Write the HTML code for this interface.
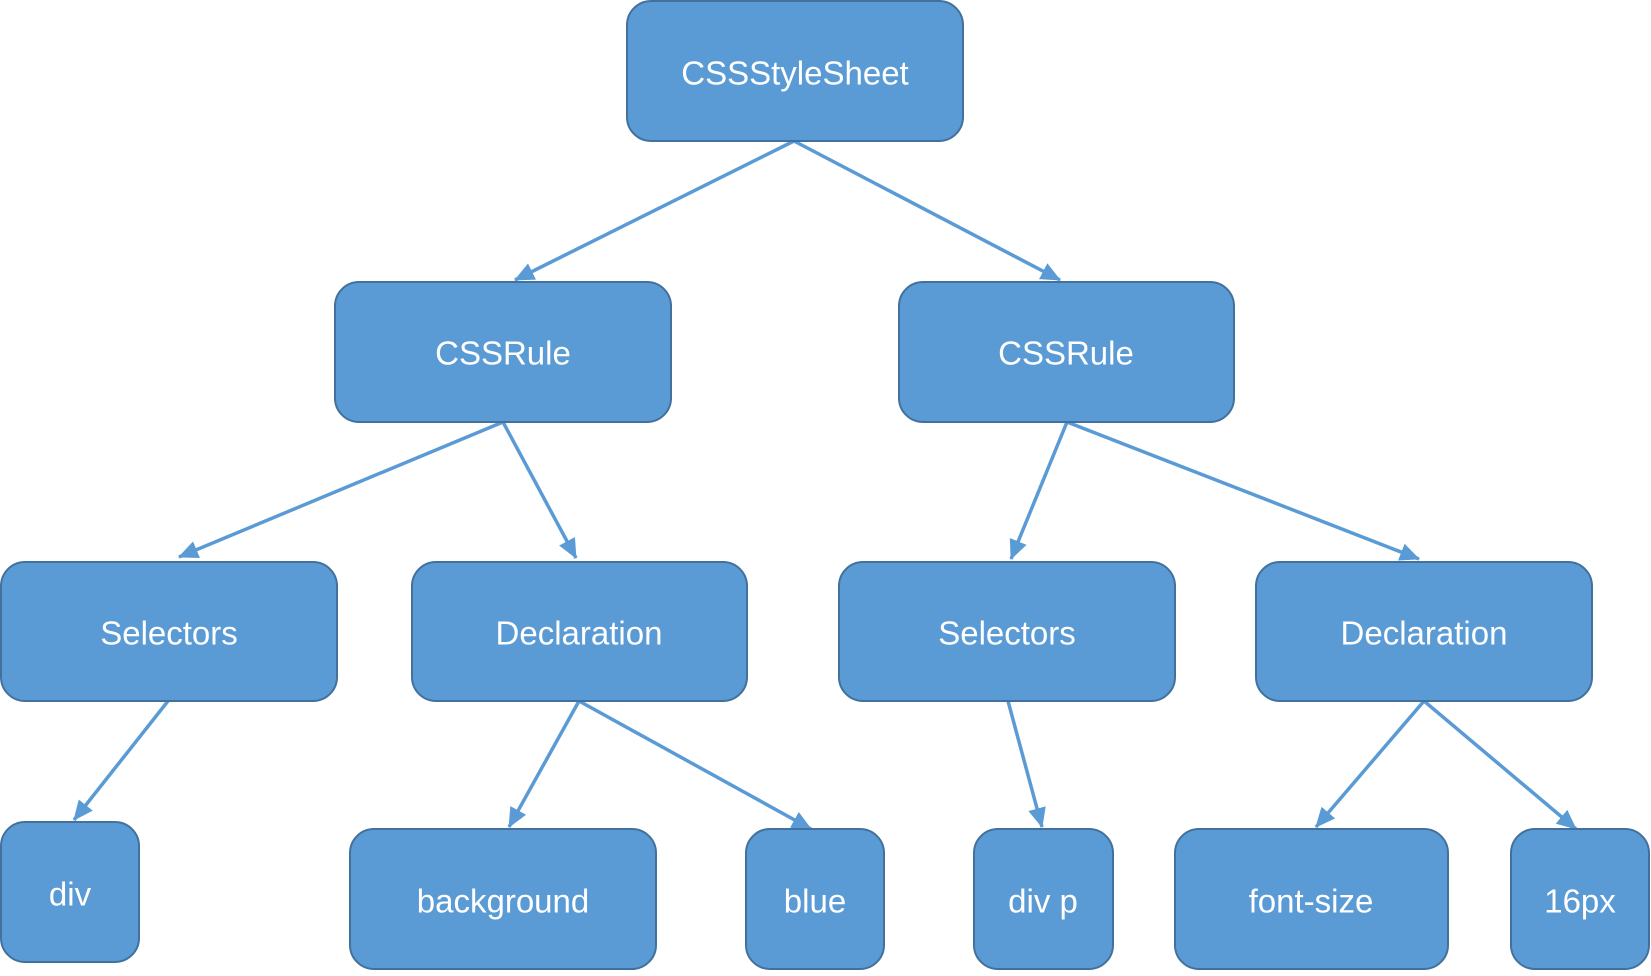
<!DOCTYPE html>
<html><head><meta charset="utf-8"><style>
body{margin:0;background:#fff;width:1651px;height:971px;overflow:hidden}
svg text{font-family:"Liberation Sans","Noto Sans CJK SC",sans-serif;font-size:33px;fill:#fff;text-anchor:middle;dominant-baseline:central}
</style></head><body>
<svg width="1651" height="971" viewBox="0 0 1651 971">
<defs><marker id="a" markerWidth="8" markerHeight="8" refX="7" refY="4" orient="auto" markerUnits="userSpaceOnUse" viewBox="0 0 8 8"><path d="M0,0L8,4L0,8z" fill="#5b9bd5"/></marker>
<marker id="m" markerWidth="20" markerHeight="18" refX="19" refY="9" orient="auto" markerUnits="userSpaceOnUse"><path d="M0,0L20,9L0,18z" fill="#5b9bd5"/></marker></defs>
<g stroke="#5b9bd5" stroke-width="3.5" marker-end="url(#m)">
<line x1="794" y1="141" x2="515" y2="280"/>
<line x1="794" y1="141" x2="1060" y2="280"/>
<line x1="503" y1="422" x2="179" y2="557"/>
<line x1="503" y1="422" x2="576" y2="558"/>
<line x1="1067" y1="422" x2="1011" y2="559"/>
<line x1="1067" y1="422" x2="1419" y2="559"/>
<line x1="168" y1="701" x2="74" y2="820"/>
<line x1="579" y1="701" x2="509" y2="827"/>
<line x1="579" y1="701" x2="811" y2="829"/>
<line x1="1008" y1="701" x2="1042" y2="827"/>
<line x1="1424" y1="701" x2="1316" y2="827"/>
<line x1="1424" y1="701" x2="1576" y2="829"/>
</g>
<g fill="#5b9bd5" stroke="#41719c" stroke-width="2">
<rect x="627" y="1" width="336" height="140" rx="24"/>
<rect x="335" y="282" width="336" height="140" rx="24"/>
<rect x="899" y="282" width="335" height="140" rx="24"/>
<rect x="1" y="562" width="336" height="139" rx="24"/>
<rect x="412" y="562" width="335" height="139" rx="24"/>
<rect x="839" y="562" width="336" height="139" rx="24"/>
<rect x="1256" y="562" width="336" height="139" rx="24"/>
<rect x="1" y="822" width="138" height="140" rx="24"/>
<rect x="350" y="829" width="306" height="140" rx="24"/>
<rect x="746" y="829" width="138" height="140" rx="24"/>
<rect x="974" y="829" width="139" height="140" rx="24"/>
<rect x="1175" y="829" width="273" height="140" rx="24"/>
<rect x="1511" y="829" width="138" height="140" rx="24"/>
</g>
<text x="795" y="73">CSSStyleSheet</text>
<text x="503" y="353">CSSRule</text>
<text x="1066" y="353">CSSRule</text>
<text x="169" y="633">Selectors</text>
<text x="579" y="633">Declaration</text>
<text x="1007" y="633">Selectors</text>
<text x="1424" y="633">Declaration</text>
<text x="70" y="894">div</text>
<text x="503" y="901">background</text>
<text x="815" y="901">blue</text>
<text x="1043" y="901">div p</text>
<text x="1311" y="901">font-size</text>
<text x="1580" y="901">16px</text>
</svg>
</body></html>
